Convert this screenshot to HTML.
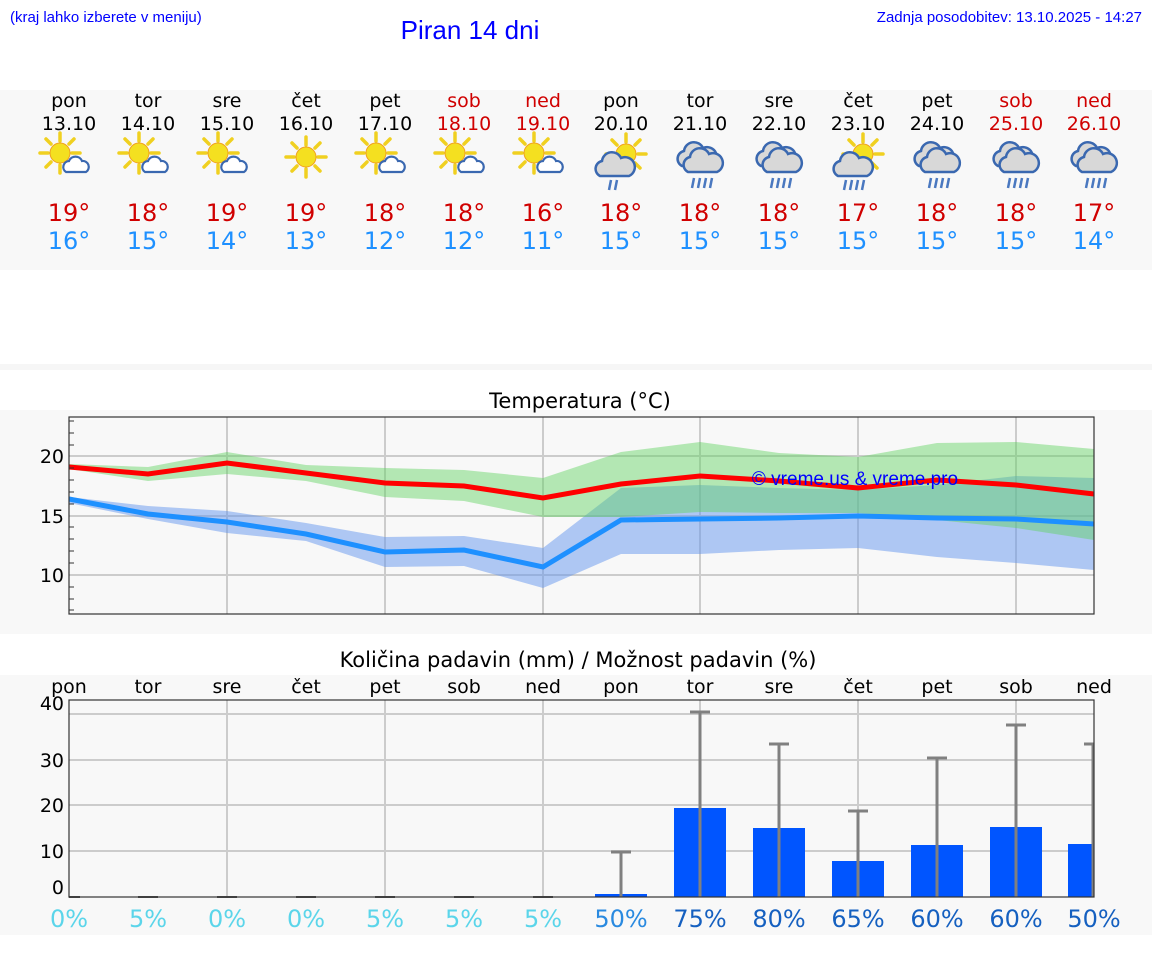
<!DOCTYPE html>
<html><head><meta charset="utf-8"><style>
body{margin:0;background:#fff;}
svg{display:block;}
.h{font-family:"Liberation Sans",sans-serif;}
.d{font-family:"DejaVu Sans","Liberation Sans",sans-serif;}
</style></head><body>
<svg width="1152" height="975" viewBox="0 0 1152 975" xmlns="http://www.w3.org/2000/svg">
<defs>
<g id="sun">
 <g stroke="#f0d020" stroke-width="3.5" stroke-linecap="round">
  <line x1="0" y1="-20" x2="0" y2="-12"/><line x1="0" y1="20" x2="0" y2="12"/>
  <line x1="-20" y1="0" x2="-12" y2="0"/><line x1="20" y1="0" x2="12" y2="0"/>
  <line x1="-14" y1="-14" x2="-9" y2="-9"/><line x1="14" y1="14" x2="9" y2="9"/>
  <line x1="-14" y1="14" x2="-9" y2="9"/><line x1="14" y1="-14" x2="9" y2="-9"/>
 </g>
 <circle r="10" fill="#f4e020" stroke="#f0a020" stroke-width="1"/>
</g>
<g id="cs"><path d="M-10 7 a6 6 0 0 1 3-11 a7 7 0 0 1 13 0 a6 6 0 0 1 4 11 z" fill="#fff" stroke="#3a68b0" stroke-width="2.2"/></g>
<g id="cb"><path d="M-14 10 a8 8 0 0 1 2-15 a10 10 0 0 1 19-3 a8 8 0 0 1 8 18 z" fill="#d8d8d8" stroke="#3a68b0" stroke-width="2.5"/></g>
<g id="rain" stroke="#4a78c0" stroke-width="2.5"><line x1="-6" y1="14" x2="-8" y2="24"/><line x1="0" y1="14" x2="-2" y2="24"/><line x1="6" y1="14" x2="4" y2="24"/><line x1="12" y1="14" x2="10" y2="24"/></g>
<g id="i1"><use href="#sun" x="-6" y="-4"/><use href="#cs" x="10" y="8"/></g>
<g id="i2"><use href="#sun" x="0" y="0"/></g>
<g id="i3"><use href="#sun" x="5" y="-6"/><use href="#cb" x="-7" y="6"/><g stroke="#4a78c0" stroke-width="2.5"><line x1="-10" y1="20" x2="-12" y2="30"/><line x1="-4" y1="20" x2="-6" y2="30"/></g></g>
<g id="i4"><use href="#cb" x="-4" y="-4"/><use href="#cb" x="2" y="2"/><use href="#rain" x="0" y="4"/></g>
<g id="i5"><use href="#sun" x="5" y="-6"/><use href="#cb" x="-6" y="6"/><g stroke="#4a78c0" stroke-width="2.5"><line x1="-12" y1="20" x2="-14" y2="30"/><line x1="-6" y1="20" x2="-8" y2="30"/><line x1="0" y1="20" x2="-2" y2="30"/><line x1="6" y1="20" x2="4" y2="30"/></g></g>
</defs>
<rect width="1152" height="975" fill="#fff"/>
<text class="h" x="10" y="22" font-size="15" fill="#0000ff">(kraj lahko izberete v meniju)</text>
<text class="h" x="470" y="39" font-size="26" fill="#0000ff" text-anchor="middle">Piran 14 dni</text>
<text class="h" x="1142" y="22" font-size="15" fill="#0000ff" text-anchor="end">Zadnja posodobitev: 13.10.2025 - 14:27</text>

<rect x="0" y="90" width="1152" height="180" fill="#f8f8f8"/>
<rect x="0" y="364" width="1152" height="6" fill="#f6f6f6"/>
<g class="d" font-size="19" text-anchor="middle">
<g fill="#000">
<text x="69" y="107">pon</text><text x="148" y="107">tor</text><text x="227" y="107">sre</text><text x="306" y="107">čet</text><text x="385" y="107">pet</text>
<text x="621" y="107">pon</text><text x="700" y="107">tor</text><text x="779" y="107">sre</text><text x="858" y="107">čet</text><text x="937" y="107">pet</text>
<text x="69" y="130">13.10</text><text x="148" y="130">14.10</text><text x="227" y="130">15.10</text><text x="306" y="130">16.10</text><text x="385" y="130">17.10</text>
<text x="621" y="130">20.10</text><text x="700" y="130">21.10</text><text x="779" y="130">22.10</text><text x="858" y="130">23.10</text><text x="937" y="130">24.10</text>
</g>
<g fill="#d00000">
<text x="464" y="107">sob</text><text x="543" y="107">ned</text><text x="1016" y="107">sob</text><text x="1094" y="107">ned</text>
<text x="464" y="130">18.10</text><text x="543" y="130">19.10</text><text x="1016" y="130">25.10</text><text x="1094" y="130">26.10</text>
</g>
</g>
<use href="#i1" x="66" y="157"/><use href="#i1" x="145" y="157"/><use href="#i1" x="224" y="157"/><use href="#i2" x="306" y="157"/>
<use href="#i1" x="382" y="157"/><use href="#i1" x="461" y="157"/><use href="#i1" x="540" y="157"/>
<use href="#i3" x="621" y="160"/><use href="#i4" x="700" y="160"/><use href="#i4" x="779" y="160"/><use href="#i5" x="858" y="160"/>
<use href="#i4" x="937" y="160"/><use href="#i4" x="1016" y="160"/><use href="#i4" x="1094" y="160"/>
<g class="d" font-size="24" text-anchor="middle" fill="#d00000">
<text x="69" y="221">19°</text><text x="148" y="221">18°</text><text x="227" y="221">19°</text><text x="306" y="221">19°</text><text x="385" y="221">18°</text><text x="464" y="221">18°</text><text x="543" y="221">16°</text>
<text x="621" y="221">18°</text><text x="700" y="221">18°</text><text x="779" y="221">18°</text><text x="858" y="221">17°</text><text x="937" y="221">18°</text><text x="1016" y="221">18°</text><text x="1094" y="221">17°</text>
</g>
<g class="d" font-size="24" text-anchor="middle" fill="#1e90ff">
<text x="69" y="249">16°</text><text x="148" y="249">15°</text><text x="227" y="249">14°</text><text x="306" y="249">13°</text><text x="385" y="249">12°</text><text x="464" y="249">12°</text><text x="543" y="249">11°</text>
<text x="621" y="249">15°</text><text x="700" y="249">15°</text><text x="779" y="249">15°</text><text x="858" y="249">15°</text><text x="937" y="249">15°</text><text x="1016" y="249">15°</text><text x="1094" y="249">14°</text>
</g>

<!-- Temperature -->
<rect x="0" y="410" width="1152" height="224" fill="#f8f8f8"/>
<text class="d" x="580" y="408" font-size="21" text-anchor="middle" fill="#000">Temperatura (°C)</text>
<g stroke="#ccc" stroke-width="2">
<line x1="69" y1="456" x2="1094" y2="456"/><line x1="69" y1="516" x2="1094" y2="516"/><line x1="69" y1="575" x2="1094" y2="575"/>
<line x1="227" y1="417" x2="227" y2="614"/><line x1="385" y1="417" x2="385" y2="614"/><line x1="543" y1="417" x2="543" y2="614"/><line x1="700" y1="417" x2="700" y2="614"/><line x1="858" y1="417" x2="858" y2="614"/><line x1="1016" y1="417" x2="1016" y2="614"/>
</g>
<polygon fill="#6495ed" fill-opacity="0.5" points="69,497 148,506 227,511 306,523 385,537 464,536 543,548 621,488 700,485 779,488 858,490 937,485 1016,476 1094,478 1094,570 1016,563 937,557 858,548 779,550 700,554 621,554 543,588 464,566 385,567 306,541 227,533 148,519 69,503"/>
<polygon fill="#5fd35f" fill-opacity="0.45" points="69,464 148,467 227,452 306,465 385,468 464,470 543,478 621,452 700,442 779,453 858,457 937,443 1016,442 1094,449 1094,540 1016,528 937,520 858,513 779,513 700,512 621,517 543,517 464,501 385,497 306,481 227,474 148,481 69,469"/>
<polyline fill="none" stroke="#ff0000" stroke-width="5" points="69,467 148,474 227,463 306,473 385,483 464,486 543,498 621,484 700,476 779,481 858,488 937,480 1016,485 1094,494"/>
<polyline fill="none" stroke="#1e90ff" stroke-width="5" points="69,499 148,514 227,522 306,534 385,552 464,550 543,567 621,520 700,519 779,518 858,516 937,518 1016,519 1094,524"/>
<text class="h" x="855" y="485" font-size="19" fill="#0000ff" text-anchor="middle">© vreme.us &amp; vreme.pro</text>
<rect x="69" y="417" width="1025" height="197" fill="none" stroke="#333" stroke-width="1.2"/>
<g stroke="#333" stroke-width="1">
<line x1="69" y1="421" x2="74" y2="421"/><line x1="69" y1="433" x2="74" y2="433"/><line x1="69" y1="445" x2="74" y2="445"/><line x1="69" y1="468" x2="74" y2="468"/><line x1="69" y1="480" x2="74" y2="480"/><line x1="69" y1="492" x2="74" y2="492"/><line x1="69" y1="504" x2="74" y2="504"/><line x1="69" y1="527" x2="74" y2="527"/><line x1="69" y1="539" x2="74" y2="539"/><line x1="69" y1="551" x2="74" y2="551"/><line x1="69" y1="563" x2="74" y2="563"/><line x1="69" y1="587" x2="74" y2="587"/><line x1="69" y1="599" x2="74" y2="599"/><line x1="69" y1="610" x2="74" y2="610"/>
</g>
<g class="d" font-size="19" fill="#000" text-anchor="end">
<text x="64" y="463">20</text><text x="64" y="523">15</text><text x="64" y="582">10</text>
</g>

<!-- Precipitation -->
<text class="d" x="578" y="667" font-size="21" text-anchor="middle" fill="#000">Količina padavin (mm) / Možnost padavin (%)</text>
<rect x="0" y="675" width="1152" height="260" fill="#f8f8f8"/>
<g class="d" font-size="19" fill="#000" text-anchor="middle">
<text x="69" y="693">pon</text><text x="148" y="693">tor</text><text x="227" y="693">sre</text><text x="306" y="693">čet</text><text x="385" y="693">pet</text><text x="464" y="693">sob</text><text x="543" y="693">ned</text>
<text x="621" y="693">pon</text><text x="700" y="693">tor</text><text x="779" y="693">sre</text><text x="858" y="693">čet</text><text x="937" y="693">pet</text><text x="1016" y="693">sob</text><text x="1094" y="693">ned</text>
</g>
<g stroke="#ccc" stroke-width="2">
<line x1="69" y1="714" x2="1094" y2="714"/><line x1="69" y1="760" x2="1094" y2="760"/><line x1="69" y1="805" x2="1094" y2="805"/><line x1="69" y1="851" x2="1094" y2="851"/>
<line x1="227" y1="700" x2="227" y2="897"/><line x1="385" y1="700" x2="385" y2="897"/><line x1="543" y1="700" x2="543" y2="897"/><line x1="700" y1="700" x2="700" y2="897"/><line x1="858" y1="700" x2="858" y2="897"/><line x1="1016" y1="700" x2="1016" y2="897"/>
</g>
<g fill="#0055ff">
<rect x="595" y="894" width="52" height="3"/><rect x="674" y="808" width="52" height="89"/><rect x="753" y="828" width="52" height="69"/><rect x="832" y="861" width="52" height="36"/><rect x="911" y="845" width="52" height="52"/><rect x="990" y="827" width="52" height="70"/><rect x="1068" y="844" width="26" height="53"/>
</g>
<g stroke="#808080" stroke-width="3">
<line x1="621" y1="852" x2="621" y2="897"/><line x1="611" y1="852" x2="631" y2="852"/>
<line x1="700" y1="712" x2="700" y2="897"/><line x1="690" y1="712" x2="710" y2="712"/>
<line x1="779" y1="744" x2="779" y2="897"/><line x1="769" y1="744" x2="789" y2="744"/>
<line x1="858" y1="811" x2="858" y2="897"/><line x1="848" y1="811" x2="868" y2="811"/>
<line x1="937" y1="758" x2="937" y2="897"/><line x1="927" y1="758" x2="947" y2="758"/>
<line x1="1016" y1="725" x2="1016" y2="897"/><line x1="1006" y1="725" x2="1026" y2="725"/>
<line x1="1093" y1="744" x2="1093" y2="897"/><line x1="1084" y1="744" x2="1094" y2="744"/>
</g>
<g stroke="#555" stroke-width="2">
<line x1="69" y1="897" x2="80" y2="897"/><line x1="138" y1="897" x2="158" y2="897"/><line x1="217" y1="897" x2="237" y2="897"/><line x1="296" y1="897" x2="316" y2="897"/><line x1="375" y1="897" x2="395" y2="897"/><line x1="454" y1="897" x2="474" y2="897"/><line x1="533" y1="897" x2="553" y2="897"/>
</g>
<rect x="69" y="700" width="1025" height="197" fill="none" stroke="#333" stroke-width="1.2"/>
<g class="d" font-size="19" fill="#000" text-anchor="end">
<text x="64" y="710">40</text><text x="64" y="767">30</text><text x="64" y="812">20</text><text x="64" y="858">10</text><text x="64" y="894">0</text>
</g>
<g class="d" font-size="24" text-anchor="middle">
<g fill="#5bd5ea"><text x="69" y="927">0%</text><text x="148" y="927">5%</text><text x="227" y="927">0%</text><text x="306" y="927">0%</text><text x="385" y="927">5%</text><text x="464" y="927">5%</text><text x="543" y="927">5%</text></g>
<text x="621" y="927" fill="#2a8ae0">50%</text>
<g fill="#1560c0"><text x="700" y="927">75%</text><text x="779" y="927">80%</text><text x="858" y="927">65%</text><text x="937" y="927">60%</text><text x="1016" y="927">60%</text><text x="1094" y="927">50%</text></g>
</g>
</svg>
</body></html>
